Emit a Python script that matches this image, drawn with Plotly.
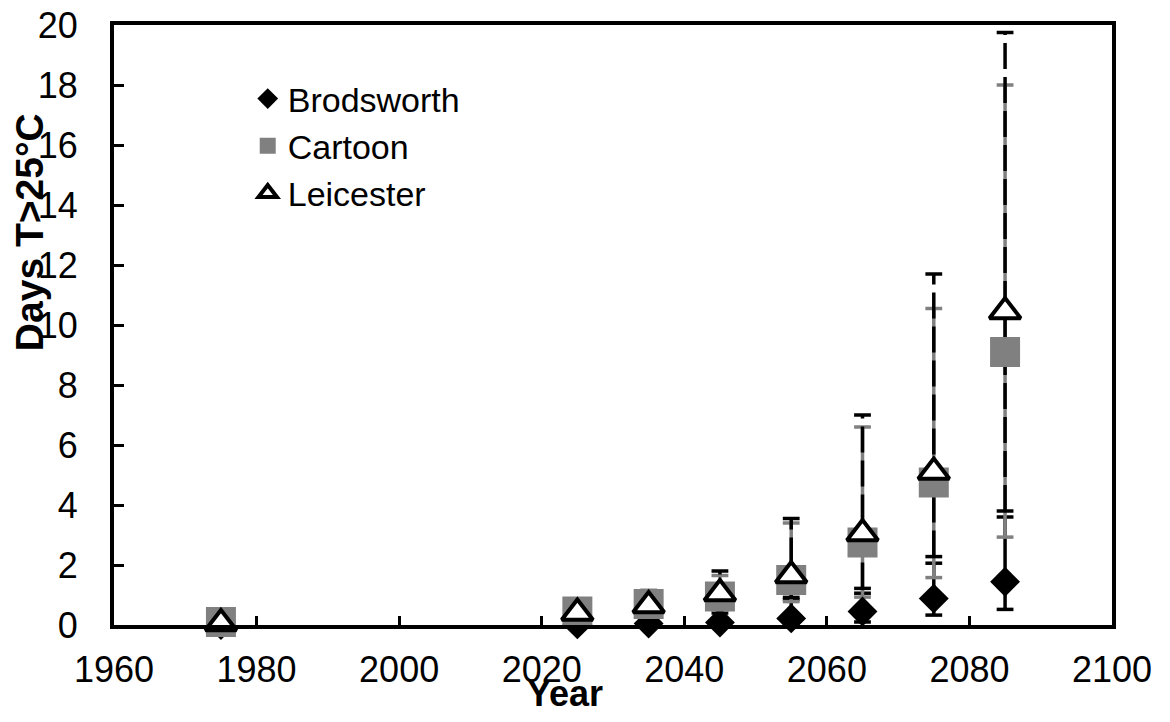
import plotly.graph_objects as go

years = [1975, 2025, 2035, 2045, 2055, 2065, 2075, 2085]

brod = [0.0, 0.02, 0.05, 0.08, 0.22, 0.45, 0.88, 1.44]
brod_lo = [0.0, 0.0, 0.0, 0.0, 0.05, 0.1, 0.33, 0.52]
brod_hi = [0.0, 0.1, 0.2, 0.4, 0.85, 1.06, 2.06, 3.6]

cart = [0.1, 0.45, 0.7, 0.95, 1.5, 2.75, 4.75, 9.1]
cart_lo = [0.1, 0.2, 0.35, 0.5, 0.78, 0.93, 1.58, 2.93]
cart_hi = [0.1, 0.75, 1.05, 1.65, 3.4, 6.6, 10.55, 18.0]

leic = [0.05, 0.4, 0.65, 1.05, 1.65, 3.05, 5.1, 10.45]
leic_lo = [0.05, 0.2, 0.35, 0.55, 0.92, 1.22, 2.28, 3.8]
leic_hi = [0.05, 0.65, 1.15, 1.8, 3.55, 7.0, 11.7, 19.75]

x_ticks = [1960, 1980, 2000, 2020, 2040, 2060, 2080, 2100]
y_ticks = [0, 2, 4, 6, 8, 10, 12, 14, 16, 18, 20]

FONT = "Liberation Sans, Arial, sans-serif"
GRAY = "#808080"

fig = go.Figure()


def err_segments(xs, lo, hi):
    sx, sy = [], []
    for x, a, b in zip(xs, lo, hi):
        sx += [x, x, None]
        sy += [a, b, None]
    return sx, sy


def add_errbars(lo, hi, color, dash):
    sx, sy = err_segments(years, lo, hi)
    fig.add_trace(go.Scatter(x=sx, y=sy, mode="lines",
                             line=dict(color=color, width=3.5, dash=dash),
                             showlegend=False, hoverinfo="skip", cliponaxis=False))
    fig.add_trace(go.Scatter(x=years + years, y=lo + hi, mode="markers",
                             marker=dict(symbol="line-ew", size=12,
                                         line=dict(color=color, width=3.5)),
                             showlegend=False, hoverinfo="skip", cliponaxis=False))


add_errbars(brod_lo, brod_hi, "black", "solid")
add_errbars(cart_lo, cart_hi, GRAY, "solid")
add_errbars(leic_lo, leic_hi, "black", "26px,8px")

fig.add_trace(go.Scatter(x=years, y=brod, mode="markers", name="Brodsworth",
                         marker=dict(symbol="diamond", size=23, color="black"),
                         cliponaxis=False))
fig.add_trace(go.Scatter(x=years, y=cart, mode="markers", name="Cartoon",
                         marker=dict(symbol="square", size=30, color=GRAY),
                         cliponaxis=False))
fig.add_trace(go.Scatter(x=years, y=leic, mode="markers", name="Leicester",
                         marker=dict(symbol="triangle-up", size=27, color="white",
                                     line=dict(color="black", width=4)),
                         cliponaxis=False))

fig.update_layout(
    width=1154, height=706,
    margin=dict(l=106, r=50, t=17, b=89, autoexpand=False),
    paper_bgcolor="white", plot_bgcolor="white",
    font=dict(family=FONT, size=36, color="black"),
    showlegend=True,
    legend=dict(x=0.134, y=0.925, xanchor="left", yanchor="top",
                bgcolor="rgba(0,0,0,0)", font=dict(size=34),
                itemsizing="trace"),
    annotations=[
        dict(text="<b>Year</b>", xref="paper", yref="paper", x=0.452, y=-0.152,
             xanchor="center", yanchor="bottom", showarrow=False,
             font=dict(size=36)),
        dict(text="<b>Days T>25°C</b>", xref="paper", yref="paper", x=-0.084, y=0.655,
             xanchor="center", yanchor="middle", showarrow=False, textangle=-90,
             font=dict(size=39)),
    ],
)

fig.update_xaxes(range=[1960, 2100], tickvals=x_ticks, showgrid=False, zeroline=False,
                 showline=True, linewidth=4, linecolor="black", mirror=True,
                 ticks="inside", ticklen=9, tickwidth=3, tickcolor="black",
                 ticklabelstandoff=10, automargin=False, ticklabeloverflow="allow")
fig.update_yaxes(range=[0, 20], tickvals=y_ticks, showgrid=False, zeroline=False,
                 showline=True, linewidth=4, linecolor="black", mirror=True,
                 ticks="inside", ticklen=10, tickwidth=3, tickcolor="black",
                 ticklabelstandoff=25, automargin=False, ticklabeloverflow="allow")

fig.write_html("out.html")
